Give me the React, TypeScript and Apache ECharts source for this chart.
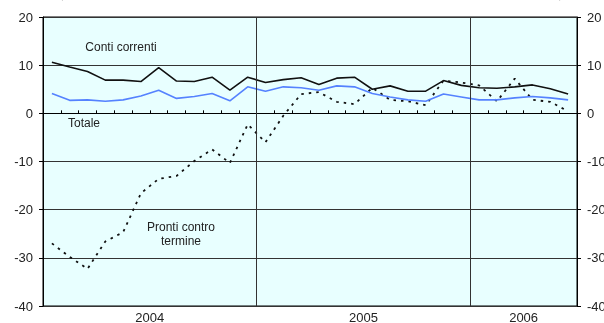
import React, { useEffect, useRef } from "react";
import * as echarts from "echarts";

const months = [
  "2004-01", "2004-02", "2004-03", "2004-04", "2004-05", "2004-06",
  "2004-07", "2004-08", "2004-09", "2004-10", "2004-11", "2004-12",
  "2005-01", "2005-02", "2005-03", "2005-04", "2005-05", "2005-06",
  "2005-07", "2005-08", "2005-09", "2005-10", "2005-11", "2005-12",
  "2006-01", "2006-02", "2006-03", "2006-04", "2006-05", "2006-06",
];

const contiCorrenti = [
  10.6, 9.6, 8.7, 6.9, 6.9, 6.6, 9.5, 6.7, 6.6, 7.5, 4.8, 7.5,
  6.4, 7.0, 7.4, 6.0, 7.3, 7.5, 5.0, 5.7, 4.6, 4.6, 6.8, 5.8,
  5.3, 5.2, 5.5, 5.9, 5.1, 4.0,
];

const totale = [
  4.1, 2.7, 2.8, 2.5, 2.8, 3.6, 4.8, 3.1, 3.5, 4.1, 2.6, 5.5,
  4.6, 5.5, 5.3, 4.8, 5.7, 5.5, 4.1, 3.4, 2.8, 2.5, 4.0, 3.4,
  2.8, 2.8, 3.2, 3.5, 3.2, 2.8,
];

const prontiControTermine = [
  -27.0, -29.8, -32.3, -26.6, -24.7, -16.6, -13.6, -13.0, -9.9, -7.5, -10.3, -2.3,
  -6.0, -0.5, 4.0, 4.4, 2.4, 1.9, 5.3, 2.8, 2.5, 1.7, 6.8, 6.4,
  5.8, 2.5, 7.2, 2.8, 2.4, 0.4,
];

const yMin = -40;
const yMax = 20;
const yStep = 10;

const titleText = "(dati mensili; variazioni percentuali sui 12 mesi)";

export default function App() {
  const ref = useRef<HTMLDivElement>(null);

  useEffect(() => {
    if (!ref.current) return;
    const chart = echarts.init(ref.current, null, { renderer: "svg" });

    // year groups
    const years: { year: string; start: number; count: number }[] = [];
    months.forEach((m, i) => {
      const y = m.slice(0, 4);
      const last = years[years.length - 1];
      if (last && last.year === y) last.count += 1;
      else years.push({ year: y, start: i, count: 1 });
    });
    const yearLabelAt: Record<number, string> = {};
    years.forEach((g) => {
      yearLabelAt[g.start + g.count / 2] = g.year;
    });
    const yearBoundaries = years.slice(1).map((g) => ({ xAxis: g.start }));

    const toPts = (arr: number[]) => arr.map((v, i) => [i + 0.5, v]);
    const font = "Liberation Sans";

    const yAxisBase = {
      type: "value" as const,
      min: yMin,
      max: yMax,
      interval: yStep,
      axisLine: { show: true, lineStyle: { color: "#000", width: 1 } },
      axisTick: { show: true, length: 4, lineStyle: { color: "#000" } },
    };

    chart.setOption({
      animation: false,
      grid: {
        left: 43,
        right: 27,
        top: 17,
        bottom: 17,
        containLabel: false,
        outerBoundsMode: "none",
        show: true,
        backgroundColor: "#E8FFFF",
        borderColor: "#000",
        borderWidth: 1,
      },
      xAxis: {
        type: "value",
        min: 0,
        max: months.length,
        interval: 1,
        axisLine: { show: true, lineStyle: { color: "#000" } },
        axisTick: { show: true, inside: true, length: 3, lineStyle: { color: "#000" } },
        axisLabel: {
          margin: 5,
          color: "#222",
          fontSize: 13,
          fontFamily: font,
          formatter: (v: number) => yearLabelAt[v] ?? "",
        },
        splitLine: { show: false },
      },
      yAxis: [
        {
          ...yAxisBase,
          position: "left",
          axisLabel: { margin: 10, color: "#222", fontSize: 13, fontFamily: font },
          splitLine: { show: true, lineStyle: { color: "#333", width: 1 } },
        },
        {
          ...yAxisBase,
          position: "right",
          axisLabel: { margin: 10, color: "#222", fontSize: 13, fontFamily: font },
          splitLine: { show: false },
        },
      ],
      series: [
        {
          type: "line",
          name: "Pronti contro termine",
          data: toPts(prontiControTermine),
          showSymbol: false,
          lineStyle: { color: "#111", width: 1.8, type: [2.5, 5] },
          markLine: {
            silent: true,
            symbol: ["none", "none"],
            label: { show: false },
            lineStyle: { color: "#333", type: "solid", width: 1 },
            data: yearBoundaries,
          },
          z: 2,
        },
        {
          type: "line",
          name: "Totale",
          data: toPts(totale),
          showSymbol: false,
          lineStyle: { color: "#5582ff", width: 1.6 },
          z: 3,
        },
        {
          type: "line",
          name: "Conti correnti",
          data: toPts(contiCorrenti),
          showSymbol: false,
          lineStyle: { color: "#111", width: 1.6 },
          z: 4,
        },
      ],
      graphic: [
        {
          type: "text",
          x: 311,
          y: -1,
          style: {
            text: titleText,
            font: 'bold 25px "Liberation Serif"',
            fill: "#000",
            align: "center",
            verticalAlign: "bottom",
          },
        },
        {
          type: "text",
          x: 121,
          y: 47,
          style: {
            text: "Conti correnti",
            font: '12px "Liberation Sans"',
            fill: "#222",
            align: "center",
            verticalAlign: "middle",
          },
        },
        {
          type: "text",
          x: 84,
          y: 123,
          style: {
            text: "Totale",
            font: '12px "Liberation Sans"',
            fill: "#222",
            align: "center",
            verticalAlign: "middle",
          },
        },
        {
          type: "text",
          x: 181,
          y: 234,
          style: {
            text: "Pronti contro\ntermine",
            font: '12px "Liberation Sans"',
            lineHeight: 14,
            fill: "#222",
            align: "center",
            verticalAlign: "middle",
          },
        },
      ],
    });

    return () => chart.dispose();
  }, []);

  return (
    <div
      ref={ref}
      style={{ position: "fixed", left: 0, top: 0, width: 604, height: 323 }}
    />
  );
}
